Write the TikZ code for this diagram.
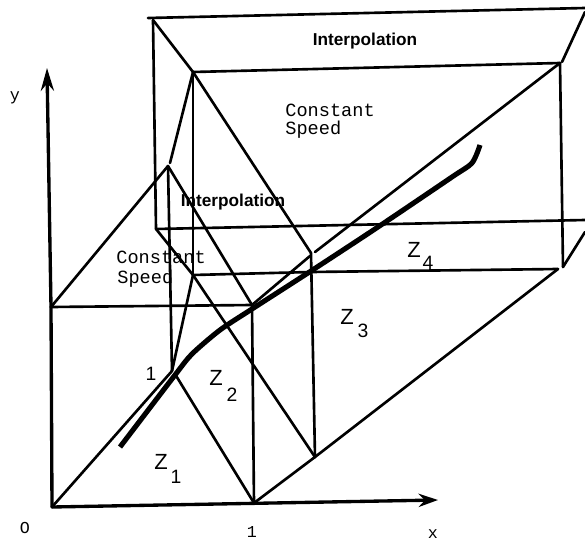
\documentclass[tikz,border=0pt]{standalone}
\usepackage{fontspec}
\setsansfont{Liberation Sans}
\setmonofont{Liberation Mono}
\usepackage{tikz}
\usetikzlibrary{arrows.meta}

\tikzset{
  zonelabel/.style={font=\sffamily\fontsize{12.5}{12.5}\selectfont, inner sep=0pt},
  zoneindex/.style={font=\sffamily\fontsize{11}{11}\selectfont, inner sep=0pt},
  ticklabel/.style={font=\ttfamily\fontsize{9.5}{9.5}\selectfont, inner sep=0pt},
  speedlabel/.style={font=\ttfamily\fontsize{10.6}{10.6}\selectfont, inner sep=0pt, anchor=west},
  interplabel/.style={font=\sffamily\bfseries\fontsize{9.8}{9.8}\selectfont, inner sep=0pt},
}

\begin{document}
\begin{tikzpicture}[x=0.02cm, y=-0.02cm, >=Stealth, line cap=round, line join=round]
  \path[use as bounding box] (0,0) rectangle (585,541);

  % Corner points of the zones
  \foreach \name/\x/\y in {o/52/507,xend/438/500,yend/47/68,ymid/51/307,
    a1/254/503,a2/252/305,apex/168/166,foot/172/371,low/175/374,
    b1/193/275,b2/193/72,b3/156/229,b4/153/20,b5/148/18,
    c1/315/457,c2/311/253,c3/558/269,c4/560/63,c5/563/267,
    e1/585/8,e2/585/12,e3/585/220,e4/585/232,e5/311/272} {
    \coordinate (\name) at (\x,\y);
  }
  \coordinate (gapa) at (170,163);
  \coordinate (gapb) at (310,256);
  \coordinate (gapc) at (315,252);
  \coordinate (gapd) at (562,62);

  % Axes
  \draw[line width=1.9pt, -{Stealth[length=11pt,width=7.5pt]}] (o) -- (xend);
  \draw[line width=1.9pt, -{Stealth[length=13pt,width=7.5pt]}] (ymid) -- (yend);
  \draw[line width=1.9pt] (o) -- (ymid);

  % Zone edges
  \foreach \a/\b in {a1/a2,a2/ymid,ymid/apex,apex/a2,apex/foot,o/foot,low/a1,foot/b1,
    b1/e5,e5/c3,c3/c1,c1/a1,c2/c1,b2/c2,b1/c1,b2/b1,gapa/b2,b5/e1,b2/c4,
    gapd/e2,b4/b2,b4/b3,b3/e3,b3/b1,c4/c5,c5/e4,a2/gapb,gapc/c4} {
    \draw[line width=1.5pt] (\a) -- (\b);
  }

  % Trajectory
  \draw[line width=2.9pt, line cap=butt]
    plot[smooth, tension=0.45] coordinates {
      (120,447) (175,375) (192,354) (220,330) (252,309) (311,271)
      (378,227) (452,177) (472,163) (480,145)
    };

  % Labels
  \node[interplabel] (topinterp) at (365,41) {Interpolation};
  \node[interplabel] (midinterp) at (233,202) {Interpolation};
  \node[speedlabel] (topconst) at (285,110) {Constant};
  \node[speedlabel] (topspeed) at (285,130) {Speed};
  \node[speedlabel] (lowconst) at (116,257) {Constant};
  \node[speedlabel] (lowspeed) at (117,279) {Speed};

  \node[ticklabel] (ylabel) at (15,98) {y};
  \node[ticklabel] (olabel) at (25,528) {O};
  \node[ticklabel] (onelabel) at (252,532) {1};
  \node[ticklabel] (xlabel) at (433,534) {x};
  \node[zoneindex] (unitlabel) at (151,374) {1};

  % Zone names
  \foreach \name/\x/\y/\u/\v/\idx in {z1/161/462/176/477/1,z2/216/378/232/395/2,
    z3/347/317/363/331/3,z4/414/250/428/263/4} {
    \node[zonelabel] (\name) at (\x,\y) {Z};
    \node[zoneindex] (\name i) at (\u,\v) {\idx};
  }
\end{tikzpicture}
\end{document}
